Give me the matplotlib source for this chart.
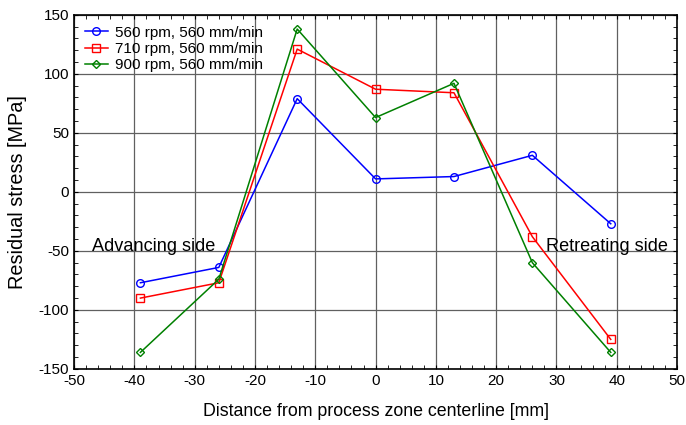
import matplotlib
matplotlib.use("Agg")
import matplotlib.pyplot as plt
from matplotlib.ticker import MultipleLocator

plt.rcParams['font.family'] = ['Liberation Sans', 'DejaVu Sans']
plt.rcParams['axes.unicode_minus'] = False

x = [-39, -26, -13, 0, 13, 26, 39]
s560 = [-77, -64, 79, 11, 13, 31, -27]
s710 = [-90, -77, 121, 87, 84, -38, -125]
s900 = [-136, -74, 138, 63, 92, -60, -136]
labels = ["560 rpm, 560 mm/min", "710 rpm, 560 mm/min", "900 rpm, 560 mm/min"]

fig = plt.figure(figsize=(6.86, 4.25), dpi=100)
ax = fig.add_axes([0.108, 0.132, 0.879, 0.833])

ax.plot(x, s560, color='#0000ff', marker='o', ms=5.5, mfc='none', mew=1.0, lw=1.1, label=labels[0])
ax.plot(x, s710, color='#ff0000', marker='s', ms=6, mfc='none', mew=1.0, lw=1.1, label=labels[1])
ax.plot(x, s900, color='#008000', marker='D', ms=4, mfc='none', mew=1.0, lw=1.1, label=labels[2])

ax.set_xlim(-50, 50)
ax.set_ylim(-150, 150)
ax.xaxis.set_major_locator(MultipleLocator(10))
ax.yaxis.set_major_locator(MultipleLocator(50))
ax.xaxis.set_minor_locator(MultipleLocator(2))
ax.yaxis.set_minor_locator(MultipleLocator(10))
ax.tick_params(which='both', direction='in', top=True, right=True, labelsize=11)
ax.tick_params(which='major', length=3)
ax.tick_params(which='minor', length=3)
ax.grid(True, which='major', color='#606060', lw=0.9)
ax.set_axisbelow(True)
for s in ax.spines.values():
    s.set_linewidth(1.2)

ax.set_xlabel("Distance from process zone centerline [mm]", fontsize=12.8, labelpad=11)
ax.set_ylabel("Residual stress [MPa]", fontsize=14.3)
ax.yaxis.set_label_coords(-0.078, 0.5)

ax.text(-47, -46, "Advancing side", fontsize=13.1, va='center', ha='left')
ax.text(28.3, -46, "Retreating side", fontsize=13.1, va='center', ha='left')

leg = ax.legend(loc='upper left', frameon=False, fontsize=11, handlelength=1.5,
                handletextpad=0.45, labelspacing=0.15, borderaxespad=0.3,
                bbox_to_anchor=(0.0, 1.0))

fig.savefig("out.png", dpi=100)
